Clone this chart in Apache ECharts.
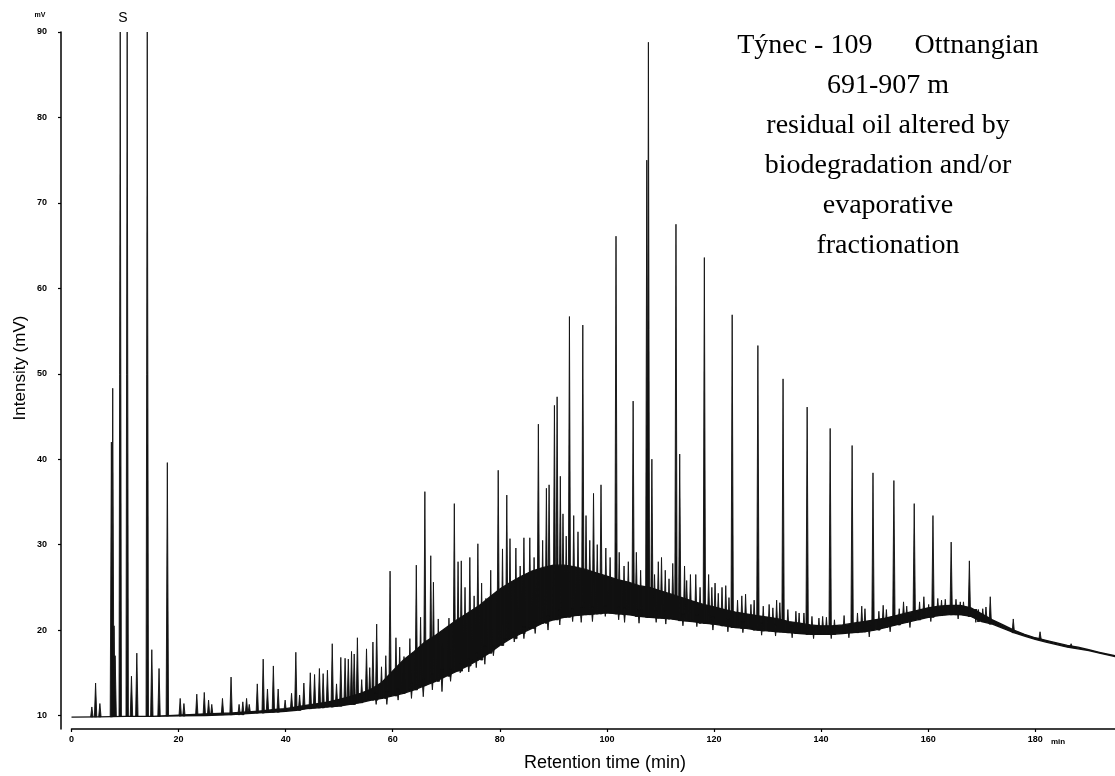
<!DOCTYPE html>
<html><head><meta charset="utf-8">
<script src="https://cdn.jsdelivr.net/npm/echarts@6/dist/echarts.min.js"></script>
<style>html,body{margin:0;padding:0;background:#fff}#c{width:1115px;height:776px}</style>
</head><body><div id="c"></div>
<script>
// Axis ticks
const xTicks = [0, 20, 40, 60, 80, 100, 120, 140, 160, 180];
const yTicks = [10, 20, 30, 40, 50, 60, 70, 80, 90];

// Unresolved hump (baseline + dense noise band): time (min), lower / upper edge (mV)
const envTime = [0,5,10,15,20,25,30,35,38,40,42,44,46,48,50,52,54,56,58,60,62,64,66,68,70,72,74,76,78,80,82,84,86,88,90,92,94,96,98,100,102,104,106,108,110,112,114,116,118,120,122,124,126,128,130,132,134,136,138,140,142,144,146,148,150,152,154,156,158,160,162,164,166,168,170,172,174,176,178,180,182,184,186,188,190,192,194.9];
const envLow = [9.8,9.85,9.9,9.9,9.95,10.0,10.1,10.3,10.4,10.5,10.6,10.8,10.9,11.0,11.1,11.3,11.5,11.8,12.0,12.3,12.6,13.0,13.5,14.0,14.6,15.2,15.8,16.5,17.3,18.2,19.0,19.6,20.2,20.8,21.2,21.5,21.7,21.8,21.9,22.0,21.9,21.8,21.6,21.5,21.4,21.3,21.1,21.0,20.8,20.7,20.5,20.3,20.2,20.0,19.9,19.8,19.7,19.6,19.5,19.5,19.5,19.6,19.7,19.8,20.0,20.3,20.6,20.9,21.2,21.5,21.7,21.8,21.8,21.6,21.0,20.7,20.2,19.7,19.3,18.9,18.6,18.3,18.0,17.8,17.6,17.3,16.9];
const envHigh = [9.8,9.85,9.9,9.9,10.05,10.2,10.3,10.5,10.7,10.8,11.0,11.2,11.4,11.6,11.9,12.2,12.6,13.1,13.9,15.2,16.5,17.5,18.6,19.4,20.3,21.2,22.0,22.8,23.8,24.8,25.6,26.3,26.9,27.3,27.6,27.6,27.4,27.1,26.7,26.3,25.9,25.6,25.2,25.0,24.6,24.2,23.8,23.4,23.0,22.7,22.4,22.1,21.9,21.7,21.5,21.3,21.0,20.8,20.6,20.5,20.5,20.6,20.8,21.0,21.2,21.4,21.7,22.0,22.3,22.6,22.8,22.9,22.9,22.6,21.9,21.2,20.6,20.0,19.5,19.1,18.8,18.5,18.2,18.0,17.7,17.4,17.0];

// Resolved peaks: [retention time (min), apex (mV)]
const peaks = [
  [3.8,11.0],[4.5,13.8],[5.3,11.4],[7.45,42.0],[7.7,48.3],[7.95,20.5],[8.15,17.0],[9.1,90],[10.4,90],
  [11.2,14.6],[12.2,17.3],[14.15,90],[15.0,17.7],[16.35,15.5],[17.9,39.6],[20.3,12.0],[21.0,11.4],
  [23.4,12.5],[24.8,12.7],[25.6,11.8],[26.2,11.3],[28.2,12.0],[29.8,14.5],[31.3,11.3],[32.0,11.6],
  [32.7,12.0],[33.2,11.3],[34.7,13.7],[35.8,16.6],[36.6,13.1],[37.7,15.8],[38.6,13.1],[39.9,11.8],
  [41.1,12.6],[41.9,17.4],[42.6,12.4],[43.4,13.8],[44.6,15.0],[45.4,14.8],[46.3,15.5],[47.0,14.9],[47.8,15.3],
  [48.7,18.4],[49.5,13.7],[50.3,16.8],[51.1,16.7],[51.7,16.6],[52.3,17.5],[52.8,17.2],[53.4,19.1],
  [54.2,14.2],[55.1,17.8],[55.7,15.6],[56.3,18.6],[57.0,20.7],[57.9,15.7],[58.7,17.0],[59.5,26.9],[60.6,19.1],
  [61.3,18.0],[62.1,16.9],[63.2,19.0],[64.4,27.6],[65.2,21.5],[66.0,36.2],[67.1,28.7],[67.6,25.6],[68.5,21.3],
  [69.3,18.5],[70.5,21.4],[71.5,34.8],[72.2,28.0],[72.8,28.1],[73.5,25.0],[74.4,28.5],[75.2,24.0],
  [75.9,30.1],[76.6,25.5],[77.4,23.7],[78.3,27.0],[79.7,38.7],[80.5,29.5],[81.3,35.8],[81.9,30.7],
  [83.0,29.6],[83.8,27.5],[84.5,30.8],[85.6,30.8],[86.4,28.5],[87.2,44.1],[88.0,30.5],[88.7,36.6],
  [89.2,37.0],[90.2,46.3],[90.7,47.3],[91.3,38.0],[91.8,33.6],[92.4,31.0],[93.0,56.7],[93.8,33.4],
  [94.6,31.5],[95.5,55.7],[96.1,33.4],[96.8,30.5],[97.5,36.0],[98.2,30.0],[98.9,37.0],[99.8,29.6],
  [100.6,28.5],[101.7,66.1],[102.3,29.1],[103.2,27.5],[104.0,28.0],[104.9,46.8],[105.5,29.1],[106.3,27.0],
  [107.45,75.0],[107.75,88.8],[108.4,40.0],[108.9,26.5],[109.6,28.0],[110.2,28.5],[110.9,27.0],[111.6,26.0],
  [112.3,27.8],[112.9,67.5],[113.6,40.6],[114.5,27.5],[114.9,25.8],[115.6,26.5],[116.6,26.5],[117.4,25.0],
  [118.2,63.6],[119.0,26.5],[119.6,25.0],[120.2,25.5],[120.8,24.3],[121.5,25.0],[122.2,25.2],[122.8,23.8],
  [123.4,56.9],[124.4,23.5],[125.2,24.0],[125.9,24.2],[126.9,23.0],[127.5,23.5],[128.2,53.3],[129.2,22.8],
  [130.3,23.0],[131.0,22.6],[131.7,23.5],[132.3,23.2],[132.9,49.4],[133.8,22.4],[135.3,22.2],[135.9,22.0],
  [136.8,22.0],[137.4,46.1],[138.3,21.6],[139.6,21.4],[140.3,21.6],[141.0,21.5],[141.7,43.6],[142.5,21.2],
  [144.3,21.7],[145.8,41.6],[146.8,22.0],[147.6,22.8],[148.2,22.5],[149.7,38.4],[150.8,22.2],[151.6,22.9],
  [152.2,22.4],[153.6,37.5],[154.6,22.5],[155.4,23.3],[156.0,22.8],[157.4,34.8],[158.4,23.3],[159.2,23.9],
  [160.1,23.0],[160.9,33.4],[161.8,23.7],[162.5,23.5],[163.2,23.6],[164.3,30.3],[165.2,23.6],[166.0,23.3],
  [166.6,23.3],[167.7,28.1],[169.4,22.4],[170.2,22.5],[170.8,22.7],[171.6,23.9],[175.9,21.3],[180.9,19.8],
  [186.7,18.4]
];

// Downward excursions below the hump: [retention time (min), minimum (mV)]
const dips = [
  [56.9,11.3],[58.9,11.3],[61.0,11.8],[63.5,12.0],[65.7,12.2],[67.4,13.0],[69.2,12.8],[70.8,14.0],
  [72.6,15.0],[74.2,15.1],[75.6,15.6],[77.2,16.0],[78.8,17.0],[81.0,18.8],[82.7,18.6],[84.5,19.0],
  [86.6,19.6],[89.0,20.0],[91.2,20.6],[93.6,21.0],[95.2,20.9],[97.3,21.0],[99.7,21.6],[102.2,21.2],
  [103.3,20.9],[106.0,20.8],[109.2,20.9],[111.0,20.7],[114.2,20.5],[116.8,20.4],[119.8,20.0],[122.6,19.8],
  [125.4,19.7],[128.9,19.4],[131.5,19.3],[134.6,19.1],[138.6,19.0],[141.9,19.0],[145.2,19.1],[149.0,19.2],
  [152.9,19.8],[156.6,20.3],[160.5,21.0],[165.6,21.3],[168.9,20.9]
];

// Text
const titleLines = ['Týnec - 109\u2003\u2002Ottnangian', '691-907 m', 'residual oil altered by',
  'biodegradation and/or', 'evaporative', 'fractionation'];

function nearest(arr, t) {
  let best = 0;
  for (let i = 1; i < envTime.length; i++) {
    if (Math.abs(envTime[i] - t) < Math.abs(envTime[best] - t)) best = i;
  }
  return arr[best];
}

const bandData = envTime.map((t, i) => [t, envLow[i], envHigh[i]]);
const peakData = peaks.map(p => [p[0], nearest(envLow, p[0]), p[1]]);
const dipData = dips.map(d => [d[0], nearest(envLow, d[0]) + 0.8, d[1]]);

const chart = echarts.init(document.getElementById('c'), null, {renderer: 'canvas'});
const lblFont = {fontSize: 9, fontWeight: 'bold', color: '#000', fontFamily: 'Liberation Sans'};

const titleGraphics = titleLines.map((s, i) => ({
  type: 'text', x: 888, y: 46 + 40 * i,
  style: {text: s, font: '28px "Liberation Serif"', fill: '#000', textAlign: 'center', textVerticalAlign: 'middle'}
}));

function spike(params, api) {
  const b = api.coord([api.value(0), api.value(1)]);
  const tip = api.coord([api.value(0), api.value(2)]);
  return {type: 'polygon', shape: {points: [[b[0] - 1.2, b[1]], [tip[0], tip[1]], [b[0] + 1.2, b[1]]]},
    style: {fill: '#111', stroke: '#111', lineWidth: 0.9}};
}

chart.setOption({
  animation: false,
  backgroundColor: '#fff',
  grid: {left: 71.5, right: 0, top: 32, bottom: 47},
  xAxis: {
    type: 'value', min: 0, max: 194.9,
    axisLine: {show: true, onZero: false, lineStyle: {color: '#000', width: 1.5}},
    axisTick: {show: true, customValues: xTicks, length: 3, lineStyle: {color: '#000', width: 1.2}},
    axisLabel: Object.assign({customValues: xTicks, margin: 6}, lblFont),
    splitLine: {show: false}
  },
  yAxis: {
    type: 'value', min: 8.42, max: 90, offset: 10.5,
    axisLine: {show: true, onZero: false, lineStyle: {color: '#000', width: 1.5}},
    axisTick: {show: true, customValues: yTicks, length: 3, lineStyle: {color: '#000', width: 1.2}},
    axisLabel: Object.assign({customValues: yTicks, margin: 14}, lblFont),
    splitLine: {show: false}
  },
  series: [
    {
      type: 'custom', name: 'hump', data: bandData, z: 2,
      renderItem: function (params, api) {
        if (params.dataIndex !== 0) return null;
        const pts = [];
        for (let i = 0; i < envTime.length; i++) pts.push(api.coord([envTime[i], envLow[i]]));
        for (let i = envTime.length - 1; i >= 0; i--) pts.push(api.coord([envTime[i], envHigh[i]]));
        return {type: 'polygon', shape: {points: pts}, style: {fill: '#111', stroke: '#111', lineWidth: 1.3}};
      }
    },
    {type: 'custom', name: 'peaks', data: peakData, z: 3, renderItem: spike},
    {type: 'custom', name: 'dips', data: dipData, z: 3, renderItem: spike}
  ],
  graphic: [
    {type: 'text', x: 40, y: 15, style: {text: 'mV', font: 'bold 7px "Liberation Sans"', fill: '#000', textAlign: 'center', textVerticalAlign: 'middle'}},
    {type: 'text', x: 1058, y: 742, style: {text: 'min', font: 'bold 8px "Liberation Sans"', fill: '#000', textAlign: 'center', textVerticalAlign: 'middle'}},
    {type: 'text', x: 123, y: 18, style: {text: 'S', font: '14px "Liberation Sans"', fill: '#000', textAlign: 'center', textVerticalAlign: 'middle'}},
    {type: 'text', x: 20, y: 368, rotation: Math.PI / 2, style: {text: 'Intensity (mV)', font: '17px "Liberation Sans"', fill: '#000', textAlign: 'center', textVerticalAlign: 'middle'}},
    {type: 'text', x: 605, y: 763, style: {text: 'Retention time (min)', font: '18px "Liberation Sans"', fill: '#000', textAlign: 'center', textVerticalAlign: 'middle'}}
  ].concat(titleGraphics)
});
</script>
</body></html>
